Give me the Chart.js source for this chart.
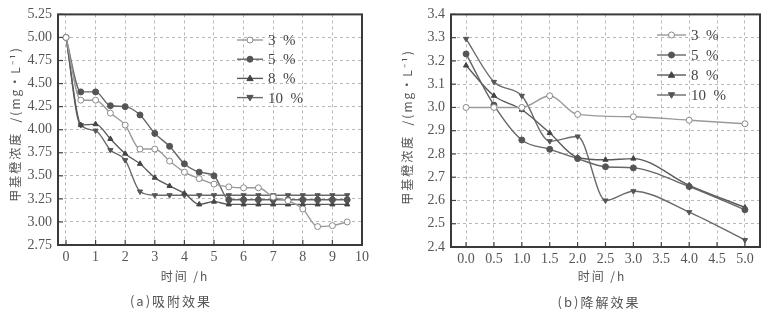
<!DOCTYPE html>
<html>
<head>
<meta charset="utf-8">
<script src="https://cdn.jsdelivr.net/npm/chart.js@4/dist/chart.umd.min.js"></script>
<style>
    body { margin: 0; background: #fff; }
    .panel { position: absolute; top: 0; }
</style>
</head>
<body>
<div class="panel" style="left:0"><canvas id="chartA" width="390" height="319"></canvas></div>
<div class="panel" style="left:390px"><canvas id="chartB" width="393" height="319"></canvas></div>
<script>
// (a) adsorption, time in h
const timeA = [0, 0.5, 1, 1.5, 2, 2.5, 3, 3.5, 4, 4.5, 5, 5.5, 6, 6.5, 7, 7.5, 8, 8.5, 9, 9.5];
const a3 = [5.00, 4.32, 4.32, 4.18, 4.05, 3.79, 3.79, 3.66, 3.54, 3.47, 3.41, 3.38, 3.37, 3.37, 3.27, 3.23, 3.14, 2.95, 2.96, 3.00];
const a5 = [5.00, 4.41, 4.41, 4.26, 4.25, 4.16, 3.96, 3.82, 3.63, 3.54, 3.50, 3.24, 3.24, 3.24, 3.24, 3.24, 3.24, 3.24, 3.24, 3.24];
const a8 = [5.00, 4.05, 4.06, 3.90, 3.74, 3.63, 3.48, 3.39, 3.31, 3.19, 3.22, 3.19, 3.19, 3.19, 3.19, 3.19, 3.19, 3.19, 3.19, 3.19];
const a10 = [5.00, 4.05, 3.99, 3.78, 3.67, 3.33, 3.29, 3.29, 3.29, 3.29, 3.29, 3.29, 3.29, 3.29, 3.29, 3.29, 3.29, 3.29, 3.29, 3.29];
const xTicksA = [0, 1, 2, 3, 4, 5, 6, 7, 8, 9, 10];
const yTicksA = [2.75, 3.00, 3.25, 3.50, 3.75, 4.00, 4.25, 4.50, 4.75, 5.00, 5.25];

// (b) degradation
const timeB3 = [0, 0.5, 1, 1.5, 2, 3, 4, 5];
const timeB = [0, 0.5, 1, 1.5, 2, 2.5, 3, 4, 5];
const b3 = [3.00, 3.00, 3.00, 3.05, 2.97, 2.96, 2.945, 2.93];
const b5 = [3.23, 3.01, 2.86, 2.82, 2.78, 2.745, 2.74, 2.66, 2.56];
const b8 = [3.18, 3.05, 2.99, 2.89, 2.785, 2.775, 2.78, 2.665, 2.57];
const b10 = [3.295, 3.11, 3.05, 2.855, 2.875, 2.60, 2.64, 2.55, 2.43];
const xTicksB = [0, 0.5, 1, 1.5, 2, 2.5, 3, 3.5, 4, 4.5, 5];
const yTicksB = [2.4, 2.5, 2.6, 2.7, 2.8, 2.9, 3.0, 3.1, 3.2, 3.3, 3.4];

const seriesNames = ['3  %', '5  %', '8  %', '10  %'];

const SERIF = '"Liberation Serif", "DejaVu Serif", serif';
const CJK = '"Noto Sans CJK SC", sans-serif';

// marker look per series
const looks = [
    { style: 'circle', rot: 0, fill: '#fff', stroke: '#8a8a8a', line: '#9a9a9a' },
    { style: 'circle', rot: 0, fill: '#555', stroke: '#555', line: '#666' },
    { style: 'triangle', rot: 0, fill: '#444', stroke: '#444', line: '#5a5a5a' },
    { style: 'triangle', rot: 180, fill: '#555', stroke: '#555', line: '#6a6a6a' }
];

const toXY = (xs, ys) => xs.map((x, i) => ({ x: x, y: ys[i] }));

function makeDatasets(xsList, ysList) {
    return ysList.map((ys, i) => ({
        label: seriesNames[i],
        data: toXY(xsList[i], ys),
        borderColor: looks[i].line,
        borderWidth: 1.4,
        backgroundColor: looks[i].fill,
        pointStyle: looks[i].style,
        pointRotation: looks[i].rot,
        pointRadius: 3,
        pointBorderColor: looks[i].stroke,
        pointBackgroundColor: looks[i].fill,
        pointBorderWidth: 1,
        cubicInterpolationMode: 'monotone',
        fill: false
    }));
}

function drawMarker(ctx, look, x, y, r) {
    ctx.save();
    ctx.fillStyle = look.fill;
    ctx.strokeStyle = look.stroke;
    ctx.lineWidth = 1;
    ctx.beginPath();
    if (look.style === 'circle') {
        ctx.arc(x, y, r, 0, Math.PI * 2);
    } else {
        const d = look.rot ? -1 : 1;
        ctx.moveTo(x, y - d * r * 1.1);
        ctx.lineTo(x - r * 1.05, y + d * r * 0.75);
        ctx.lineTo(x + r * 1.05, y + d * r * 0.75);
        ctx.closePath();
    }
    ctx.fill();
    ctx.stroke();
    ctx.restore();
}

// frame, inward ticks, legend and the titles
const decoPlugin = {
    id: 'deco',
    afterDraw(chart, args, opts) {
        const { ctx, chartArea: ca, scales } = chart;
        ctx.save();

        // inward ticks
        ctx.strokeStyle = '#444';
        ctx.lineWidth = 1.2;
        scales.x.ticks.forEach(t => {
            const px = scales.x.getPixelForValue(t.value);
            ctx.beginPath();
            ctx.moveTo(px, ca.bottom);
            ctx.lineTo(px, ca.bottom - 5);
            ctx.stroke();
        });
        scales.y.ticks.forEach(t => {
            const py = scales.y.getPixelForValue(t.value);
            ctx.beginPath();
            ctx.moveTo(ca.left, py);
            ctx.lineTo(ca.left + 5, py);
            ctx.stroke();
        });

        // frame
        ctx.strokeStyle = '#3a3a3a';
        ctx.lineWidth = 2;
        ctx.strokeRect(ca.left, ca.top, ca.right - ca.left, ca.bottom - ca.top);

        // legend
        const lg = opts.legend;
        seriesNames.forEach((name, i) => {
            const y = lg.y + i * lg.gap;
            ctx.strokeStyle = looks[i].line;
            ctx.lineWidth = 1.4;
            ctx.beginPath();
            ctx.moveTo(lg.x, y);
            ctx.lineTo(lg.x + lg.len, y);
            ctx.stroke();
            drawMarker(ctx, looks[i], lg.x + lg.len / 2, y, 3);
            ctx.fillStyle = '#444';
            ctx.font = '15px ' + SERIF;
            ctx.textAlign = 'left';
            ctx.textBaseline = 'middle';
            ctx.fillText(name, lg.x + lg.len + 5, y + 1);
        });

        // axis titles and caption, letters spread like the print
        ctx.fillStyle = '#555';
        ctx.textAlign = 'center';
        ctx.textBaseline = 'middle';
        ctx.letterSpacing = '2px';
        ctx.font = '12px ' + CJK;
        ctx.fillText('时间 /h', opts.xTitle.x, opts.xTitle.y);
        ctx.font = '13px ' + CJK;
        ctx.fillText(opts.caption.text, opts.caption.x, opts.caption.y);

        ctx.translate(opts.yTitle.x, opts.yTitle.y);
        ctx.rotate(-Math.PI / 2);
        ctx.font = '12px ' + CJK;
        ctx.fillText('甲基橙浓度  /(mg·L⁻¹)', 0, 0);
        ctx.restore();
    }
};

function makeChart(id, cfg) {
    const ctx = document.getElementById(id).getContext('2d');
    return new Chart(ctx, {
        type: 'line',
        data: { datasets: cfg.datasets },
        options: {
            responsive: false,
            animation: false,
            layout: { padding: { top: cfg.top, right: cfg.right, left: 0, bottom: 0 } },
            plugins: {
                legend: { display: false },
                tooltip: { enabled: false },
                deco: cfg.deco
            },
            scales: {
                x: {
                    type: 'linear',
                    min: cfg.xMin,
                    max: cfg.xMax,
                    afterBuildTicks: s => { s.ticks = cfg.xTicks.map(v => ({ value: v })); },
                    afterFit: s => { s.height = cfg.xHeight; },
                    ticks: {
                        callback: cfg.xFmt,
                        font: { family: SERIF, size: 14 },
                        color: '#555',
                        padding: 4,
                        maxRotation: 0,
                        autoSkip: false
                    },
                    grid: { color: '#b8b8b8', lineWidth: 1, drawTicks: false },
                    border: { display: false, dash: [3, 3] }
                },
                y: {
                    type: 'linear',
                    min: cfg.yMin,
                    max: cfg.yMax,
                    afterBuildTicks: s => { s.ticks = cfg.yTicks.map(v => ({ value: v })); },
                    afterFit: s => { s.width = cfg.yWidth; },
                    ticks: {
                        callback: cfg.yFmt,
                        font: { family: SERIF, size: 14 },
                        color: '#555',
                        padding: 6,
                        autoSkip: false
                    },
                    grid: { color: '#b8b8b8', lineWidth: 1, drawTicks: false },
                    border: { display: false, dash: [3, 3] }
                }
            }
        },
        plugins: [decoPlugin]
    });
}

document.addEventListener('DOMContentLoaded', () => {
    makeChart('chartA', {
        datasets: makeDatasets([timeA, timeA, timeA, timeA], [a3, a5, a8, a10]),
        xMin: -0.27, xMax: 10, yMin: 2.75, yMax: 5.25,
        xTicks: xTicksA, yTicks: yTicksA,
        xFmt: v => String(v), yFmt: v => v.toFixed(2),
        top: 8, right: 28, xHeight: 74, yWidth: 58,
        deco: {
            legend: { x: 237, y: 40, gap: 19.2, len: 26 },
            xTitle: { x: 185, y: 276 },
            caption: { text: '(a)吸附效果', x: 171, y: 301 },
            yTitle: { x: 15, y: 124 }
        }
    });

    makeChart('chartB', {
        datasets: makeDatasets([timeB3, timeB, timeB, timeB], [b3, b5, b8, b10]),
        xMin: -0.27, xMax: 5.27, yMin: 2.4, yMax: 3.4,
        xTicks: xTicksB, yTicks: yTicksB,
        xFmt: v => v.toFixed(1), yFmt: v => v.toFixed(1),
        top: 11, right: 23, xHeight: 72, yWidth: 61,
        deco: {
            legend: { x: 267, y: 35, gap: 20, len: 29 },
            xTitle: { x: 212, y: 276 },
            caption: { text: '(b)降解效果', x: 209, y: 302 },
            yTitle: { x: 17, y: 127 }
        }
    });
});
</script>
</body>
</html>
